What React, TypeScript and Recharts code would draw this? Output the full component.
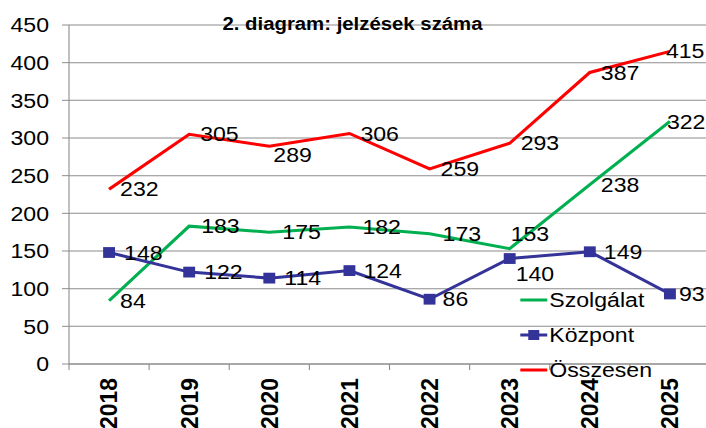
import React from "react";
import { LineChart, Line, XAxis, YAxis, CartesianGrid, Legend, LabelList } from "recharts";

const YEARS = ["2018", "2019", "2020", "2021", "2022", "2023", "2024", "2025"];
const SZOLGALAT = [84, 183, 175, 182, 173, 153, 238, 322];
const KOZPONT = [148, 122, 114, 124, 86, 140, 149, 93];
const OSSZESEN = [232, 305, 289, 306, 259, 293, 387, 415];
const Y_TICKS = [0, 50, 100, 150, 200, 250, 300, 350, 400, 450];
const TITLE = "2. diagram: jelzések száma";

// label placement tweaks (page px)
const SZOLG_LBL_DX = [11, 12, 13, 13, 13, 1, 11, -3];
const SZOLG_LBL_DY = [0, 0, 0, 0, 0, -15, 0, 0];
const KOZP_LBL_DX = [15, 15, 15, 14, 13, 6, 14, 9];
const KOZP_LBL_DY = [0, 0, 0, 0, 0, 15, 0, 0];
const OSSZ_LBL_DX = [11, 11, 4, 11, 11, 11, 11, -4];
const OSSZ_LBL_DY = [0, 0, 9, 0, 0, 0, 0, 0];

const data = YEARS.map((y, i) => ({
  year: y,
  szolgalat: SZOLGALAT[i],
  kozpont: KOZPONT[i],
  osszesen: OSSZESEN[i],
}));

const SX = 1.1;
const FONT = "'Liberation Sans', Arial, sans-serif";
const GRID = "#8c8c8c";
const GREEN = "#00B050";
const BLUE = "#333399";
const RED = "#FF0000";
const Y_AXIS_W = 69 / SX;
const CHART_W = 710 / SX;
const CHART_H = 428;
const HALF_BAND = (CHART_W - Y_AXIS_W) / 16;

const makeLabel = (dxs: number[], dys: number[]) => (props: any) => {
  const { x, y, value, index } = props;
  return (
    <text
      x={x + dxs[index] / SX}
      y={y + dys[index]}
      dominantBaseline="central"
      fontSize={21}
      fontFamily={FONT}
      fill="#000"
    >
      {value}
    </text>
  );
};

const XTick = (props: any) => {
  const { x, y, payload, index } = props;
  return (
    <g>
      <line x1={x - HALF_BAND} x2={x - HALF_BAND} y1={y} y2={y + 6} stroke={GRID} />
      {index === YEARS.length - 1 && (
        <line x1={x + HALF_BAND} x2={x + HALF_BAND} y1={y} y2={y + 6} stroke={GRID} />
      )}
      <g transform={`translate(${x},${y})`}>
        <text
          transform="rotate(-90)"
          x={-14}
          y={0}
          dy="0.36em"
          textAnchor="end"
          fontSize={21}
          fontWeight="bold"
          fontFamily={FONT}
          fill="#000"
          textLength={51}
          lengthAdjust="spacingAndGlyphs"
        >
          {payload.value}
        </text>
      </g>
    </g>
  );
};

const KozpontDot = (props: any) => {
  const { cx, cy, index } = props;
  return <rect key={`kd-${index}`} x={cx - 5.4} y={cy - 5.4} width={10.8} height={10.8} fill={BLUE} />;
};

const LEGEND_ITEMS = [
  { name: "Szolgálat", color: GREEN, marker: false },
  { name: "Központ", color: BLUE, marker: true },
  { name: "Összesen", color: RED, marker: false },
];

const LegendContent = () => (
  <svg width={170} height={110} style={{ overflow: "visible" }}>
    {LEGEND_ITEMS.map((it, i) => {
      const cy = 18 + i * 35;
      return (
        <g key={it.name}>
          <line x1={0} x2={24.5} y1={cy} y2={cy} stroke={it.color} strokeWidth={3} />
          {it.marker && <rect x={12.25 - 5} y={cy - 5} width={10} height={10} fill={it.color} />}
          <text x={26.4} y={cy} dominantBaseline="central" fontSize={21} fontFamily={FONT} fill="#000">
            {it.name}
          </text>
        </g>
      );
    })}
  </svg>
);

export default function App() {
  return (
    <div
      style={{
        position: "absolute",
        left: 0,
        top: 0,
        width: 706,
        height: 428,
        overflow: "hidden",
        background: "#fff",
      }}
    >
      <div
        style={{
          position: "relative",
          width: CHART_W,
          height: CHART_H,
          transform: `scaleX(${SX})`,
          transformOrigin: "0 0",
        }}
      >
        <LineChart
          width={CHART_W}
          height={CHART_H}
          data={data}
          margin={{ top: 25, right: 0, left: 0, bottom: 0 }}
        >
          <CartesianGrid vertical={false} stroke={GRID} strokeWidth={1} />
          <XAxis
            dataKey="year"
            height={64}
            padding={{ left: HALF_BAND, right: HALF_BAND }}
            tickLine={false}
            tickSize={0}
            tickMargin={0}
            axisLine={{ stroke: GRID }}
            tick={<XTick />}
            interval={0}
          />
          <YAxis
            width={Y_AXIS_W}
            domain={[0, 450]}
            ticks={Y_TICKS}
            tickSize={7 / SX}
            tickMargin={13 / SX}
            axisLine={{ stroke: GRID }}
            tickLine={{ stroke: GRID }}
            tick={{ fontSize: 21, fontFamily: FONT, fill: "#000" }}
          />
          <Legend
            layout="vertical"
            align="center"
            verticalAlign="middle"
            wrapperStyle={{ left: 520 / SX, top: 282, width: 170, height: 110 }}
            content={<LegendContent />}
          />
          <Line
            type="linear"
            dataKey="szolgalat"
            name="Szolgálat"
            stroke={GREEN}
            strokeWidth={3}
            dot={false}
            activeDot={false}
            isAnimationActive={false}
          >
            <LabelList dataKey="szolgalat" content={makeLabel(SZOLG_LBL_DX, SZOLG_LBL_DY)} />
          </Line>
          <Line
            type="linear"
            dataKey="kozpont"
            name="Központ"
            stroke={BLUE}
            strokeWidth={3}
            dot={KozpontDot}
            activeDot={false}
            isAnimationActive={false}
          >
            <LabelList dataKey="kozpont" content={makeLabel(KOZP_LBL_DX, KOZP_LBL_DY)} />
          </Line>
          <Line
            type="linear"
            dataKey="osszesen"
            name="Összesen"
            stroke={RED}
            strokeWidth={3}
            dot={false}
            activeDot={false}
            isAnimationActive={false}
          >
            <LabelList dataKey="osszesen" content={makeLabel(OSSZ_LBL_DX, OSSZ_LBL_DY)} />
          </Line>
        </LineChart>
        <svg
          width={CHART_W}
          height={40}
          style={{ position: "absolute", left: 0, top: 0, pointerEvents: "none" }}
        >
          <text
            x={352.5 / SX}
            y={30}
            textAnchor="middle"
            fontSize={18.5}
            fontWeight="bold"
            fontFamily={FONT}
            fill="#000"
          >
            {TITLE}
          </text>
        </svg>
      </div>
    </div>
  );
}
